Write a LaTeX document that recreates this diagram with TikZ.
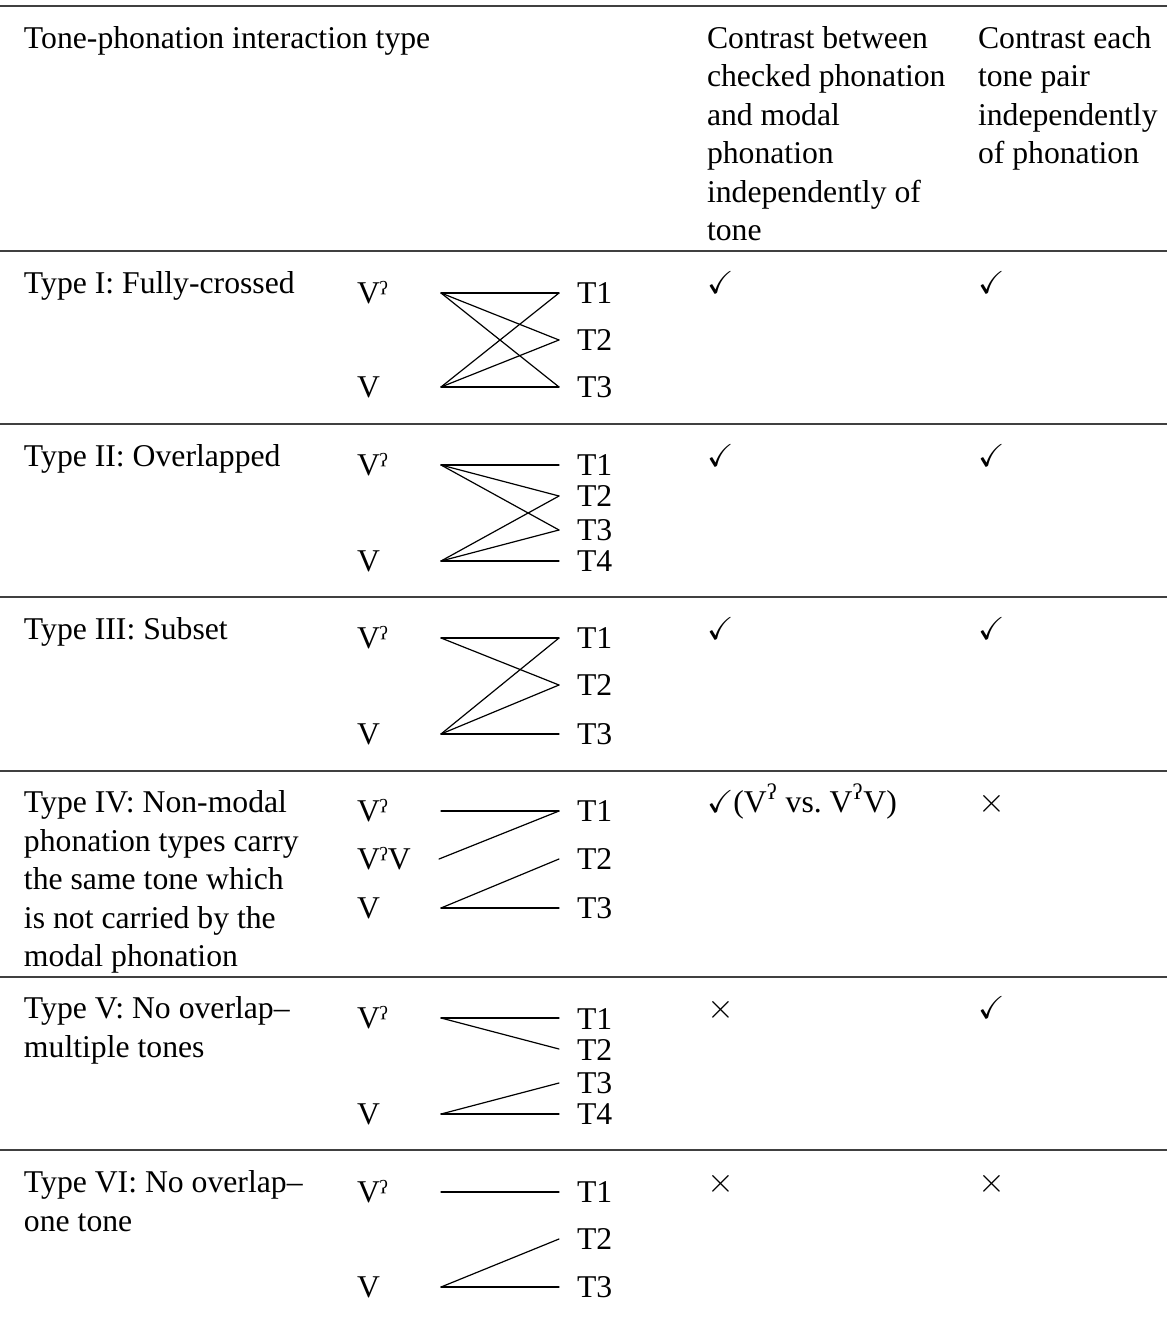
\documentclass[tikz,border=0pt]{standalone}
\usepackage{amssymb}
\usepackage{fontspec}
\setmainfont{Liberation Serif}
\newcommand{\gst}{ˀ}
\newcommand{\gsup}{\textsuperscript{ʔ}}
\begin{document}
\begin{tikzpicture}[x=0.5pt,y=-0.5pt,
  font=\fontsize{15.85}{19.25}\selectfont,
  txt/.style={anchor=base west, inner sep=0pt, outer sep=0pt},
  para/.style={txt, text width=#1, align=flush left},
  rule/.style={line width=0.7pt, black!75},
  link/.style={line width=0.6pt, line cap=round}]
\useasboundingbox (0,0) rectangle (1167,1320);

% horizontal rules
\draw[rule] (0,6) -- (1167,6);
\draw[rule] (0,251) -- (1167,251);
\draw[rule] (0,424) -- (1167,424);
\draw[rule] (0,597) -- (1167,597);
\draw[rule] (0,771) -- (1167,771);
\draw[rule] (0,977) -- (1167,977);
\draw[rule] (0,1150) -- (1167,1150);

% header
\node[txt] (h1) at (24,48.5) {Tone-phonation interaction type};
\node[para=130pt] (h3) at (707,48.5) {Contrast between\\checked phonation\\and modal\\phonation\\independently of\\tone};
\node[para=100pt] (h4) at (978,48.5) {Contrast each\\tone pair\\independently\\of phonation};

% ---------- Row I ----------
\node[txt] (t1) at (24,293.5) {Type I: Fully-crossed};
\node[txt] (c1a) at (707,293.5) {$\checkmark$};
\node[txt] (c1b) at (978,293.5) {$\checkmark$};
\node[txt] (r1v1) at (357,303.5) {V\gst};
\node[txt] (r1v2) at (357,397.5) {V};
\node[txt] (r1t1) at (577,303.5) {T1};
\node[txt] (r1t2) at (577,350.5) {T2};
\node[txt] (r1t3) at (577,397.5) {T3};
\coordinate (r1a) at (441,293);
\coordinate (r1b) at (441,387);
\coordinate (r1p) at (559,293);
\coordinate (r1q) at (559,340);
\coordinate (r1r) at (559,387);
\draw[link] (r1a) -- (r1p);
\draw[link] (r1a) -- (r1q);
\draw[link] (r1a) -- (r1r);
\draw[link] (r1b) -- (r1p);
\draw[link] (r1b) -- (r1q);
\draw[link] (r1b) -- (r1r);

% ---------- Row II ----------
\node[txt] (t2) at (24,466.5) {Type II: Overlapped};
\node[txt] (c2a) at (707,466.5) {$\checkmark$};
\node[txt] (c2b) at (978,466.5) {$\checkmark$};
\node[txt] (r2v1) at (357,475.5) {V\gst};
\node[txt] (r2v2) at (357,571.5) {V};
\node[txt] (r2t1) at (577,475.5) {T1};
\node[txt] (r2t2) at (577,506.5) {T2};
\node[txt] (r2t3) at (577,540.5) {T3};
\node[txt] (r2t4) at (577,571.5) {T4};
\coordinate (r2a) at (441,465);
\coordinate (r2b) at (441,561);
\coordinate (r2p) at (559,465);
\coordinate (r2q) at (559,496);
\coordinate (r2r) at (559,530);
\coordinate (r2s) at (559,561);
\draw[link] (r2a) -- (r2p);
\draw[link] (r2a) -- (r2q);
\draw[link] (r2a) -- (r2r);
\draw[link] (r2b) -- (r2q);
\draw[link] (r2b) -- (r2r);
\draw[link] (r2b) -- (r2s);

% ---------- Row III ----------
\node[txt] (t3) at (24,639.5) {Type III: Subset};
\node[txt] (c3a) at (707,639.5) {$\checkmark$};
\node[txt] (c3b) at (978,639.5) {$\checkmark$};
\node[txt] (r3v1) at (357,648.5) {V\gst};
\node[txt] (r3v2) at (357,744.5) {V};
\node[txt] (r3t1) at (577,648.5) {T1};
\node[txt] (r3t2) at (577,695.5) {T2};
\node[txt] (r3t3) at (577,744.5) {T3};
\coordinate (r3a) at (441,638);
\coordinate (r3b) at (441,734);
\coordinate (r3p) at (559,638);
\coordinate (r3q) at (559,685);
\coordinate (r3r) at (559,734);
\draw[link] (r3a) -- (r3p);
\draw[link] (r3a) -- (r3q);
\draw[link] (r3b) -- (r3p);
\draw[link] (r3b) -- (r3q);
\draw[link] (r3b) -- (r3r);

% ---------- Row IV ----------
\node[para=150pt] (t4) at (24,812.5) {Type IV: Non-modal\\phonation types carry\\the same tone which\\is not carried by the\\modal phonation};
\node[txt] (c4a) at (707,812.5) {$\checkmark$(V\gsup{} vs.\ V\gsup V)};
\node[txt] (c4b) at (978,812.5) {$\times$};
\node[txt] (r4v1) at (357,821.5) {V\gst};
\node[txt] (r4v2) at (357,869.5) {V\gst V};
\node[txt] (r4v3) at (357,918.5) {V};
\node[txt] (r4t1) at (577,821.5) {T1};
\node[txt] (r4t2) at (577,869.5) {T2};
\node[txt] (r4t3) at (577,918.5) {T3};
\coordinate (r4a) at (441,811);
\coordinate (r4b) at (439,859);
\coordinate (r4c) at (441,908);
\coordinate (r4p) at (559,811);
\coordinate (r4q) at (559,859);
\coordinate (r4r) at (559,908);
\draw[link] (r4a) -- (r4p);
\draw[link] (r4b) -- (r4p);
\draw[link] (r4c) -- (r4q);
\draw[link] (r4c) -- (r4r);

% ---------- Row V ----------
\node[para=150pt] (t5) at (24,1018.5) {Type V: No overlap–\\multiple tones};
\node[txt] (c5a) at (707,1018.5) {$\times$};
\node[txt] (c5b) at (978,1018.5) {$\checkmark$};
\node[txt] (r5v1) at (357,1028.5) {V\gst};
\node[txt] (r5v2) at (357,1124.5) {V};
\node[txt] (r5t1) at (577,1029.5) {T1};
\node[txt] (r5t2) at (577,1060) {T2};
\node[txt] (r5t3) at (577,1093.5) {T3};
\node[txt] (r5t4) at (577,1124.5) {T4};
\coordinate (r5a) at (441,1018);
\coordinate (r5b) at (441,1114);
\coordinate (r5p) at (559,1018);
\coordinate (r5q) at (559,1049);
\coordinate (r5r) at (559,1083);
\coordinate (r5s) at (559,1114);
\draw[link] (r5a) -- (r5p);
\draw[link] (r5a) -- (r5q);
\draw[link] (r5b) -- (r5r);
\draw[link] (r5b) -- (r5s);

% ---------- Row VI ----------
\node[para=150pt] (t6) at (24,1192.5) {Type VI: No overlap–\\one tone};
\node[txt] (c6a) at (707,1192.5) {$\times$};
\node[txt] (c6b) at (978,1192.5) {$\times$};
\node[txt] (r6v1) at (357,1202) {V\gst};
\node[txt] (r6v2) at (357,1297.5) {V};
\node[txt] (r6t1) at (577,1202) {T1};
\node[txt] (r6t2) at (577,1249.5) {T2};
\node[txt] (r6t3) at (577,1297.5) {T3};
\coordinate (r6a) at (441,1192);
\coordinate (r6b) at (441,1287);
\coordinate (r6p) at (559,1192);
\coordinate (r6q) at (559,1239);
\coordinate (r6r) at (559,1287);
\draw[link] (r6a) -- (r6p);
\draw[link] (r6b) -- (r6q);
\draw[link] (r6b) -- (r6r);
\end{tikzpicture}
\end{document}
